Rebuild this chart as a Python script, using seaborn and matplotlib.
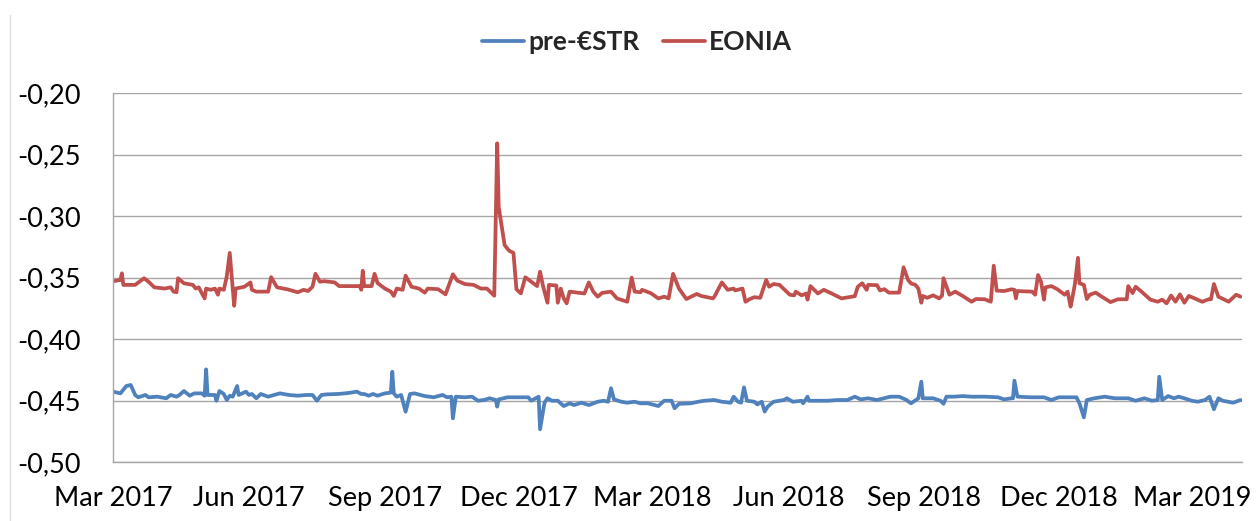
import matplotlib
matplotlib.use("Agg")
import matplotlib.pyplot as plt
import matplotlib.dates as mdates
from matplotlib.ticker import FuncFormatter
import pandas as pd
import seaborn as sns

# ---------------- data ----------------
eonia_dates = [
    "2017-03-01", "2017-03-06", "2017-03-07", "2017-03-08", "2017-03-16", "2017-03-22", "2017-03-25",
    "2017-03-29", "2017-04-05", "2017-04-09", "2017-04-11", "2017-04-13", "2017-04-14", "2017-04-18",
    "2017-04-24", "2017-04-26", "2017-04-28", "2017-05-02", "2017-05-03", "2017-05-06", "2017-05-09",
    "2017-05-11", "2017-05-12", "2017-05-15", "2017-05-17", "2017-05-19", "2017-05-21", "2017-05-22",
    "2017-05-23", "2017-05-29", "2017-06-02", "2017-06-03", "2017-06-06", "2017-06-14", "2017-06-16",
    "2017-06-20", "2017-06-27", "2017-07-04", "2017-07-08", "2017-07-11", "2017-07-14", "2017-07-16",
    "2017-07-19", "2017-07-22", "2017-07-29", "2017-08-01", "2017-08-15", "2017-08-16", "2017-08-17",
    "2017-08-18", "2017-08-23", "2017-08-25", "2017-08-27", "2017-09-01", "2017-09-05", "2017-09-07",
    "2017-09-09", "2017-09-13", "2017-09-15", "2017-09-19", "2017-09-24", "2017-09-28", "2017-09-30",
    "2017-10-07", "2017-10-12", "2017-10-17", "2017-10-20", "2017-10-25", "2017-10-31", "2017-11-05",
    "2017-11-09", "2017-11-14", "2017-11-16", "2017-11-17", "2017-11-21", "2017-11-24", "2017-11-27",
    "2017-11-29", "2017-12-02", "2017-12-05", "2017-12-08", "2017-12-13", "2017-12-15", "2017-12-17",
    "2017-12-20", "2017-12-21", "2017-12-26", "2017-12-27", "2017-12-29", "2017-12-31", "2018-01-02",
    "2018-01-04", "2018-01-14", "2018-01-17", "2018-01-20", "2018-01-23", "2018-01-26", "2018-02-01",
    "2018-02-05", "2018-02-12", "2018-02-15", "2018-02-17", "2018-02-21", "2018-02-22", "2018-02-28",
    "2018-03-05", "2018-03-09", "2018-03-12", "2018-03-15", "2018-03-19", "2018-03-24", "2018-03-31",
    "2018-04-03", "2018-04-11", "2018-04-12", "2018-04-17", "2018-04-21", "2018-04-25", "2018-04-26",
    "2018-05-01", "2018-05-03", "2018-05-06", "2018-05-09", "2018-05-13", "2018-05-17", "2018-05-19",
    "2018-05-22", "2018-05-26", "2018-06-02", "2018-06-05", "2018-06-06", "2018-06-10", "2018-06-13",
    "2018-06-14", "2018-06-16", "2018-06-21", "2018-06-25", "2018-06-30", "2018-07-07", "2018-07-16",
    "2018-07-18", "2018-07-21", "2018-07-24", "2018-07-25", "2018-07-31", "2018-08-02", "2018-08-05",
    "2018-08-08", "2018-08-15", "2018-08-18", "2018-08-21", "2018-08-23", "2018-08-26", "2018-08-28",
    "2018-08-30", "2018-08-31", "2018-09-03", "2018-09-07", "2018-09-11", "2018-09-13", "2018-09-14",
    "2018-09-18", "2018-09-22", "2018-09-27", "2018-10-03", "2018-10-06", "2018-10-12", "2018-10-16",
    "2018-10-18", "2018-10-20", "2018-10-25", "2018-10-30", "2018-11-01", "2018-11-02", "2018-11-03",
    "2018-11-13", "2018-11-15", "2018-11-17", "2018-11-19", "2018-11-21", "2018-11-22", "2018-11-26",
    "2018-11-30", "2018-12-05", "2018-12-07", "2018-12-09", "2018-12-10", "2018-12-12", "2018-12-14",
    "2018-12-15", "2018-12-18", "2018-12-20", "2018-12-22", "2018-12-26", "2018-12-30", "2019-01-05",
    "2019-01-10", "2019-01-16", "2019-01-17", "2019-01-20", "2019-01-22", "2019-01-26", "2019-02-01",
    "2019-02-06", "2019-02-09", "2019-02-12", "2019-02-15", "2019-02-18", "2019-02-21", "2019-02-24",
    "2019-02-27", "2019-03-03", "2019-03-08", "2019-03-13", "2019-03-14", "2019-03-16", "2019-03-19",
    "2019-03-26", "2019-03-31", "2019-04-03",
]
eonia_values = [
    -0.353, -0.352, -0.3466, -0.356, -0.356, -0.3506, -0.3534,
    -0.358, -0.359, -0.358, -0.3615, -0.362, -0.3506, -0.3547,
    -0.356, -0.359, -0.358, -0.367, -0.359, -0.360, -0.359,
    -0.364, -0.359, -0.360, -0.349, -0.330, -0.359, -0.373,
    -0.359, -0.3575, -0.354, -0.360, -0.3615, -0.3615, -0.3497,
    -0.358, -0.3596, -0.362, -0.360, -0.361, -0.3575, -0.347,
    -0.3534, -0.353, -0.354, -0.357, -0.357, -0.360, -0.3445,
    -0.357, -0.357, -0.347, -0.3545, -0.359, -0.3615, -0.365,
    -0.359, -0.360, -0.3485, -0.3575, -0.359, -0.3623, -0.359,
    -0.3595, -0.3637, -0.3474, -0.3526, -0.3553, -0.356, -0.359,
    -0.359, -0.3648, -0.2409, -0.2925, -0.3236, -0.3282, -0.330,
    -0.3596, -0.3629, -0.3498, -0.3525, -0.357, -0.3453, -0.357,
    -0.3705, -0.356, -0.3565, -0.3705, -0.359, -0.367, -0.371,
    -0.3615, -0.363, -0.354, -0.3615, -0.3656, -0.3625, -0.3615,
    -0.367, -0.3697, -0.3501, -0.3615, -0.362, -0.360, -0.3628,
    -0.367, -0.3656, -0.367, -0.347, -0.359, -0.3675, -0.3634,
    -0.365, -0.367, -0.3655, -0.354, -0.360, -0.359, -0.3605,
    -0.359, -0.3697, -0.3675, -0.366, -0.3665, -0.352, -0.3575,
    -0.3553, -0.356, -0.364, -0.3645, -0.3615, -0.3645, -0.363,
    -0.368, -0.357, -0.363, -0.360, -0.3628, -0.367, -0.3652,
    -0.3575, -0.3547, -0.360, -0.356, -0.3562, -0.3605, -0.3595,
    -0.3623, -0.3623, -0.3417, -0.352, -0.3548, -0.356, -0.359,
    -0.3705, -0.365, -0.3665, -0.3645, -0.367, -0.3648, -0.3506,
    -0.364, -0.3615, -0.365, -0.3697, -0.3675, -0.3677, -0.3697,
    -0.3404, -0.3607, -0.361, -0.3596, -0.360, -0.367, -0.361,
    -0.3615, -0.364, -0.348, -0.3535, -0.368, -0.358, -0.357,
    -0.3595, -0.364, -0.3615, -0.3737, -0.368, -0.3547, -0.334,
    -0.3547, -0.356, -0.3675, -0.364, -0.3623, -0.3655, -0.370,
    -0.3677, -0.3677, -0.357, -0.3627, -0.3575, -0.3615, -0.368,
    -0.3697, -0.368, -0.371, -0.3647, -0.3697, -0.3637, -0.3705,
    -0.365, -0.367, -0.3697, -0.3675, -0.3677, -0.3553, -0.3656,
    -0.3697, -0.364, -0.3656,
]

estr_dates = [
    "2017-03-01", "2017-03-06", "2017-03-10", "2017-03-13", "2017-03-16", "2017-03-18", "2017-03-23",
    "2017-03-25", "2017-03-31", "2017-04-06", "2017-04-09", "2017-04-13", "2017-04-15", "2017-04-18",
    "2017-04-22", "2017-04-25", "2017-04-30", "2017-05-02", "2017-05-03", "2017-05-04", "2017-05-09",
    "2017-05-10", "2017-05-12", "2017-05-15", "2017-05-17", "2017-05-19", "2017-05-21", "2017-05-24",
    "2017-05-25", "2017-05-30", "2017-06-01", "2017-06-03", "2017-06-06", "2017-06-09", "2017-06-14",
    "2017-06-18", "2017-06-22", "2017-06-28", "2017-07-04", "2017-07-10", "2017-07-14", "2017-07-17",
    "2017-07-20", "2017-07-24", "2017-07-31", "2017-08-05", "2017-08-09", "2017-08-13", "2017-08-16",
    "2017-08-18", "2017-08-21", "2017-08-24", "2017-08-27", "2017-09-01", "2017-09-05", "2017-09-06",
    "2017-09-07", "2017-09-09", "2017-09-12", "2017-09-15", "2017-09-18", "2017-09-21", "2017-09-28",
    "2017-10-04", "2017-10-10", "2017-10-13", "2017-10-16", "2017-10-17", "2017-10-19", "2017-10-25",
    "2017-10-30", "2017-11-03", "2017-11-07", "2017-11-11", "2017-11-15", "2017-11-16", "2017-11-17",
    "2017-11-23", "2017-11-30", "2017-12-07", "2017-12-09", "2017-12-12", "2017-12-14", "2017-12-15",
    "2017-12-18", "2017-12-20", "2017-12-23", "2017-12-27", "2017-12-31", "2018-01-04", "2018-01-07",
    "2018-01-12", "2018-01-17", "2018-01-23", "2018-01-27", "2018-01-30", "2018-02-01", "2018-02-03",
    "2018-02-08", "2018-02-12", "2018-02-17", "2018-02-21", "2018-02-26", "2018-03-05", "2018-03-09",
    "2018-03-14", "2018-03-16", "2018-03-19", "2018-03-27", "2018-04-01", "2018-04-05", "2018-04-12",
    "2018-04-17", "2018-04-23", "2018-04-25", "2018-04-28", "2018-04-30", "2018-05-02", "2018-05-04",
    "2018-05-09", "2018-05-11", "2018-05-14", "2018-05-16", "2018-05-18", "2018-05-22", "2018-05-29",
    "2018-05-31", "2018-06-04", "2018-06-10", "2018-06-11", "2018-06-14", "2018-06-15", "2018-06-21",
    "2018-06-28", "2018-07-04", "2018-07-11", "2018-07-16", "2018-07-20", "2018-07-25", "2018-07-31",
    "2018-08-09", "2018-08-15", "2018-08-20", "2018-08-23", "2018-08-28", "2018-08-30", "2018-08-31",
    "2018-09-07", "2018-09-12", "2018-09-14", "2018-09-16", "2018-09-21", "2018-09-27", "2018-10-03",
    "2018-10-12", "2018-10-21", "2018-10-25", "2018-10-30", "2018-10-31", "2018-11-01", "2018-11-03",
    "2018-11-12", "2018-11-21", "2018-11-26", "2018-12-01", "2018-12-13", "2018-12-15", "2018-12-18",
    "2018-12-20", "2018-12-25", "2019-01-01", "2019-01-08", "2019-01-17", "2019-01-22", "2019-01-28",
    "2019-02-02", "2019-02-06", "2019-02-07", "2019-02-09", "2019-02-13", "2019-02-17", "2019-02-20",
    "2019-02-24", "2019-03-01", "2019-03-05", "2019-03-10", "2019-03-13", "2019-03-16", "2019-03-19",
    "2019-03-22", "2019-03-29", "2019-04-03",
]
estr_values = [
    -0.4428, -0.4442, -0.4382, -0.4374, -0.4455, -0.4474, -0.4455,
    -0.4474, -0.4469, -0.4482, -0.4455, -0.4469, -0.4455, -0.4423,
    -0.4461, -0.4442, -0.4442, -0.4461, -0.4247, -0.4455, -0.4455,
    -0.4502, -0.4423, -0.4447, -0.4496, -0.4461, -0.4469, -0.4382,
    -0.4455, -0.4428, -0.4455, -0.4447, -0.4482, -0.4447, -0.4469,
    -0.4455, -0.4442, -0.4455, -0.4461, -0.4455, -0.4455, -0.4502,
    -0.4455, -0.4450, -0.4447, -0.4442, -0.4436, -0.4428, -0.4447,
    -0.4447, -0.4461, -0.4447, -0.4461, -0.4442, -0.4436, -0.4266,
    -0.4442, -0.4469, -0.4455, -0.4591, -0.4447, -0.4442, -0.4464,
    -0.4474, -0.4455, -0.4474, -0.4469, -0.4645, -0.4469, -0.4474,
    -0.4469, -0.4502, -0.4496, -0.4482, -0.4496, -0.4550, -0.4491,
    -0.4474, -0.4474, -0.4474, -0.4502, -0.4482, -0.4469, -0.4734,
    -0.4518, -0.4482, -0.4502, -0.4502, -0.4545, -0.4523, -0.4537,
    -0.4518, -0.4537, -0.4510, -0.4502, -0.4510, -0.4400, -0.4491,
    -0.4510, -0.4518, -0.4510, -0.4523, -0.4523, -0.4545, -0.4502,
    -0.4502, -0.4563, -0.4527, -0.4523, -0.4510, -0.4502, -0.4496,
    -0.4510, -0.4518, -0.4469, -0.4510, -0.4518, -0.4393, -0.4502,
    -0.4510, -0.4532, -0.4510, -0.4590, -0.4550, -0.4510, -0.4496,
    -0.4482, -0.4510, -0.4502, -0.4523, -0.4469, -0.4502, -0.4502,
    -0.4502, -0.4496, -0.4496, -0.4469, -0.4491, -0.4482, -0.4496,
    -0.4469, -0.4469, -0.4496, -0.4523, -0.4482, -0.4347, -0.4482,
    -0.4482, -0.4502, -0.4527, -0.4469, -0.4469, -0.4464, -0.4469,
    -0.4469, -0.4474, -0.4491, -0.4482, -0.4482, -0.4339, -0.4469,
    -0.4474, -0.4474, -0.4496, -0.4474, -0.4474, -0.4523, -0.4637,
    -0.4496, -0.4482, -0.4469, -0.4482, -0.4482, -0.4502, -0.4482,
    -0.4502, -0.4496, -0.4307, -0.4496, -0.4464, -0.4482, -0.4469,
    -0.4482, -0.4502, -0.4510, -0.4496, -0.4469, -0.4571, -0.4482,
    -0.4502, -0.4518, -0.4496,
]

series_names = ["pre-\u20acSTR", "EONIA"]
series_colors = ["#4F81BD", "#C0504D"]
y_ticks = [-0.50, -0.45, -0.40, -0.35, -0.30, -0.25, -0.20]
x_start, x_end = "2017-03-01", "2019-04-04"

# ---------------- build table ----------------
df = pd.concat([
    pd.DataFrame({"date": pd.to_datetime(estr_dates), "value": estr_values, "series": series_names[0]}),
    pd.DataFrame({"date": pd.to_datetime(eonia_dates), "value": eonia_values, "series": series_names[1]}),
], ignore_index=True)

sns.set_theme(style="white")
plt.rcParams["font.family"] = ["Lato", "DejaVu Sans"]

fig = plt.figure(figsize=(12.58, 5.21), dpi=100)
ax = fig.add_axes([113 / 1258, 1 - 462 / 521, (1242 - 113) / 1258, (462 - 93) / 521])

sns.lineplot(data=df, x="date", y="value", hue="series", hue_order=series_names,
             palette=dict(zip(series_names, series_colors)), linewidth=2.7,
             estimator=None, sort=True, ax=ax, legend=True)

ax.set_xlim(pd.Timestamp(x_start), pd.Timestamp(x_end))
ax.set_ylim(min(y_ticks), max(y_ticks))
ax.set_yticks(y_ticks)
ax.yaxis.set_major_formatter(FuncFormatter(lambda v, p: f"{v:.2f}".replace(".", ",")))
ax.xaxis.set_major_locator(mdates.MonthLocator(bymonth=[3, 6, 9, 12]))
ax.xaxis.set_major_formatter(mdates.DateFormatter("%b %Y"))
ax.set_xlabel("")
ax.set_ylabel("")

ax.grid(axis="y", color="#A6A6A6", linewidth=1.0)
ax.grid(axis="x", visible=False)
ax.set_axisbelow(True)
for s in ["top", "right"]:
    ax.spines[s].set_visible(False)
for s in ["left", "bottom"]:
    ax.spines[s].set_color("#A6A6A6")
    ax.spines[s].set_linewidth(1.0)
ax.tick_params(axis="both", which="major", direction="out", length=7, width=1.0,
               color="#A6A6A6", labelsize=19.5, labelcolor="black")
ax.tick_params(axis="x", pad=10)
ax.tick_params(axis="y", pad=16)

leg = ax.get_legend()
handles, labels = ax.get_legend_handles_labels()
leg.remove()
fig.legend(handles, labels, loc="center", bbox_to_anchor=(637 / 1258, 1 - 42 / 521),
           ncol=2, frameon=False, handlelength=1.6, handletextpad=0.15, columnspacing=0.9,
           prop={"family": ["Lato", "DejaVu Sans"], "weight": "bold", "size": 19})

# faint frame line on the left edge of the original picture
fig.add_artist(plt.Line2D([10 / 1258, 10 / 1258], [0, 1 - 15 / 521], transform=fig.transFigure,
                          color="#E0E0E0", linewidth=1.0))

fig.savefig("out.png", dpi=100)
